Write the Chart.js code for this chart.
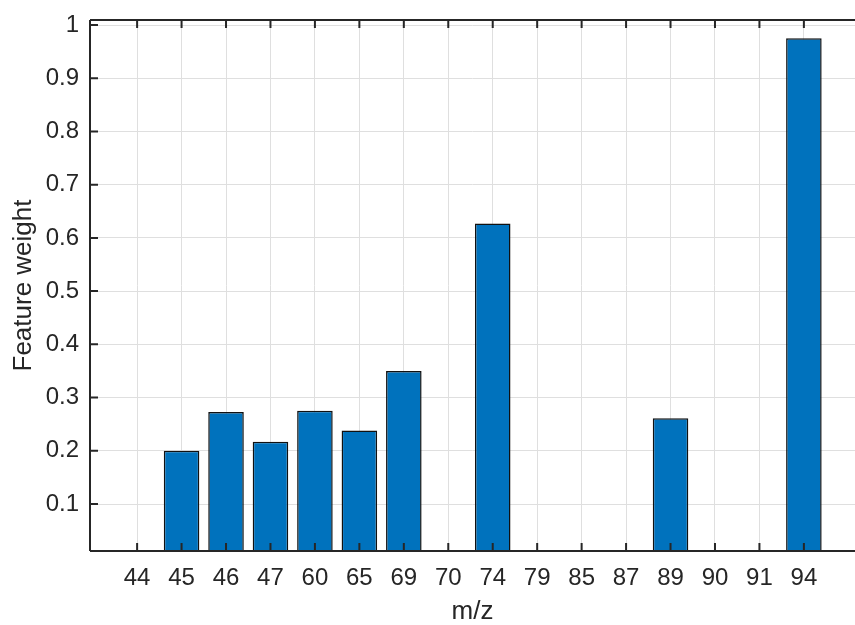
<!DOCTYPE html>
<html>
<head>
<meta charset="utf-8">
<script src="https://cdn.jsdelivr.net/npm/chart.js@4/dist/chart.umd.min.js"></script>
<style>
  html, body { margin: 0; padding: 0; background: #ffffff; }
  #wrap { width: 855px; height: 625px; }
</style>
</head>
<body>
<div id="wrap"><canvas id="c" width="855" height="625"></canvas></div>
<script>
// m/z channels shown on the x axis
const categories = ['44', '45', '46', '47', '60', '65', '69', '70', '74', '79', '85', '87', '89', '90', '91', '94'];
// feature weight for each channel
const weights = [0, 0.200, 0.273, 0.217, 0.275, 0.238, 0.350, 0, 0.627, 0, 0, 0, 0.261, 0, 0, 0.975];
// y tick values
const yTicks = [0.1, 0.2, 0.3, 0.4, 0.5, 0.6, 0.7, 0.8, 0.9, 1];
// axis limits
const yMin = 0.0117, yMax = 1.0094;
const xMin = -1.06, xMax = 16.15;

const axisColor = '#262626';
const fontFamily = '"Liberation Sans", Arial, Helvetica, sans-serif';

const points = categories.map((c, i) => ({ x: i, y: weights[i] }));

// axes drawn as a box with inward tick marks
const boxAxes = {
  id: 'boxAxes',
  afterDatasetsDraw(chart) {
    const { ctx, chartArea: a, scales } = chart;
    const tl = 8;
    ctx.save();
    ctx.strokeStyle = axisColor;
    ctx.lineWidth = 2;
    ctx.beginPath();
    ctx.moveTo(a.left, a.top); ctx.lineTo(a.right, a.top);
    ctx.moveTo(a.left, a.top); ctx.lineTo(a.left, a.bottom);
    ctx.moveTo(a.left, a.bottom); ctx.lineTo(a.right, a.bottom);
    scales.x.ticks.forEach(t => {
      const px = scales.x.getPixelForValue(t.value);
      ctx.moveTo(px, a.bottom); ctx.lineTo(px, a.bottom - tl);
      ctx.moveTo(px, a.top); ctx.lineTo(px, a.top + tl);
    });
    scales.y.ticks.forEach(t => {
      const py = scales.y.getPixelForValue(t.value);
      ctx.moveTo(a.left, py); ctx.lineTo(a.left + tl, py);
    });
    ctx.stroke();
    ctx.restore();
  }
};

new Chart(document.getElementById('c'), {
  type: 'bar',
  data: {
    datasets: [{
      data: points,
      backgroundColor: '#0072BD',
      borderColor: '#111111',
      borderWidth: 1.5,
      borderSkipped: false,
      barPercentage: 0.8,
      categoryPercentage: 1.0
    }]
  },
  options: {
    responsive: false,
    animation: false,
    events: [],
    layout: { padding: { top: 20, right: 0, left: 0, bottom: 0 } },
    plugins: { legend: { display: false }, tooltip: { enabled: false } },
    scales: {
      x: {
        type: 'linear',
        offset: false,
        min: xMin,
        max: xMax,
        afterBuildTicks(scale) { scale.ticks = categories.map((c, i) => ({ value: i })); },
        afterFit(scale) {
          scale.height = 74;
          scale.paddingLeft = 0;
          scale.paddingRight = 0;
        },
        ticks: {
          autoSkip: false,
          maxRotation: 0,
          padding: 13,
          color: axisColor,
          font: { family: fontFamily, size: 24 },
          callback: (v) => categories[v]
        },
        grid: { color: '#dfdfdf', lineWidth: 1, drawTicks: false, offset: false },
        border: { display: false },
        title: {
          display: true,
          text: 'm/z',
          color: axisColor,
          font: { family: fontFamily, size: 26, lineHeight: 1 },
          padding: { top: 0, bottom: 0 }
        }
      },
      y: {
        min: yMin,
        max: yMax,
        afterBuildTicks(scale) { scale.ticks = yTicks.map(v => ({ value: v })); },
        afterFit(scale) {
          scale.width = 90;
          scale.paddingTop = 0;
          scale.paddingBottom = 0;
        },
        ticks: {
          padding: 11,
          color: axisColor,
          font: { family: fontFamily, size: 24 },
          callback: (v) => String(Math.round(v * 10) / 10)
        },
        grid: { color: '#dfdfdf', lineWidth: 1, drawTicks: false },
        border: { display: false },
        title: {
          display: true,
          text: 'Feature weight',
          color: axisColor,
          font: { family: fontFamily, size: 26, lineHeight: 1 },
          padding: { top: 11, bottom: 0 }
        }
      }
    }
  },
  plugins: [boxAxes]
});
</script>
</body>
</html>
